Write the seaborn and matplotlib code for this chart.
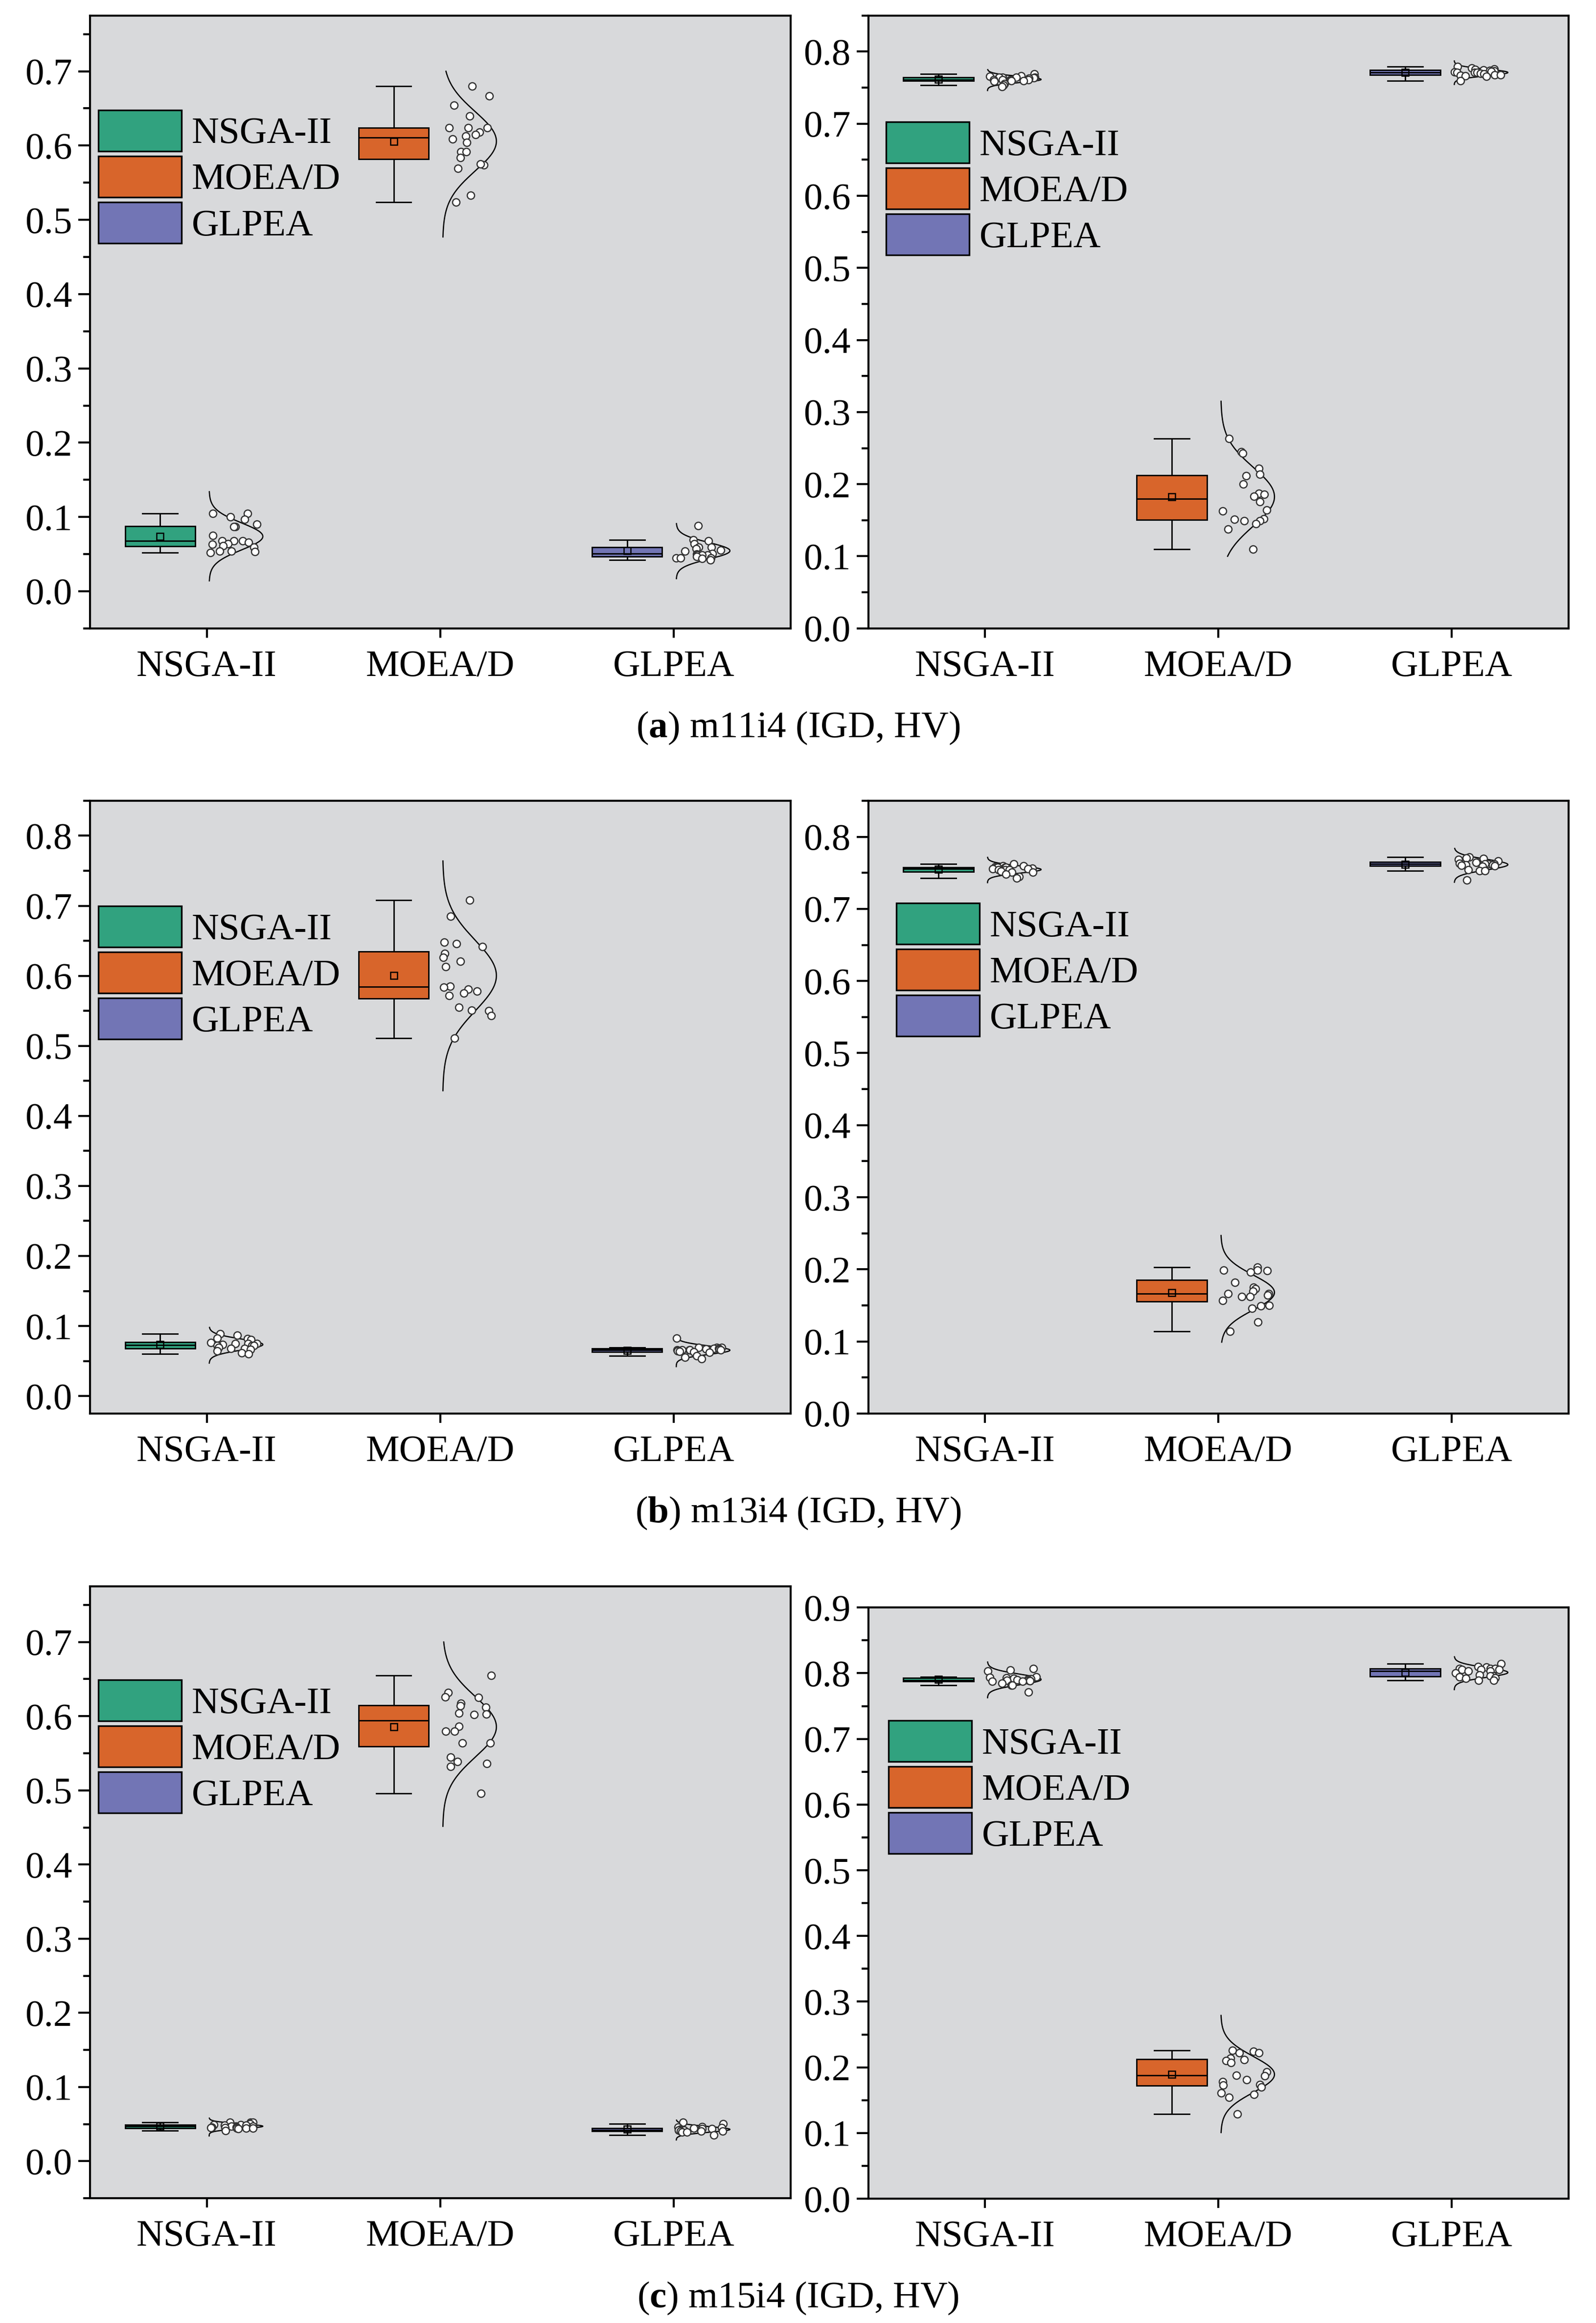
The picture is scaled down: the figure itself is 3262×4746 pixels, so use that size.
import numpy as np
import pandas as pd
import matplotlib
matplotlib.use("Agg")
import matplotlib.pyplot as plt
import matplotlib.transforms as mtransforms
from matplotlib.patches import Patch
from matplotlib.ticker import AutoMinorLocator, FormatStrFormatter
import seaborn as sns

ALGS = ["NSGA-II", "MOEA/D", "GLPEA"]
COLORS = ["#31a27f", "#d8652b", "#7275b5"]
BG = "#d8d9db"

# ---- m11i4 ----
igd_m11_nsga2 = [0.105, 0.105, 0.100, 0.097, 0.090, 0.087, 0.087, 0.075, 0.068, 0.068,
                 0.068, 0.066, 0.064, 0.063, 0.061, 0.059, 0.054, 0.054, 0.053, 0.052]
igd_m11_moead = [0.680, 0.667, 0.654, 0.640, 0.624, 0.624, 0.624, 0.618, 0.615, 0.613,
                 0.609, 0.604, 0.592, 0.592, 0.584, 0.574, 0.575, 0.569, 0.533, 0.524]
igd_m11_glpea = [0.088, 0.069, 0.068, 0.064, 0.059, 0.059, 0.057, 0.055, 0.054, 0.051,
                 0.050, 0.049, 0.049, 0.049, 0.047, 0.045, 0.045, 0.045, 0.044, 0.042]
hv_m11_nsga2 = [0.7688, 0.7662, 0.7656, 0.7643, 0.7643, 0.7643, 0.7643, 0.7636, 0.7630, 0.7610,
                0.7610, 0.7610, 0.7610, 0.7604, 0.7597, 0.7597, 0.7591, 0.7558, 0.7532, 0.7513]
hv_m11_moead = [0.263, 0.245, 0.243, 0.222, 0.214, 0.212, 0.200, 0.187, 0.186, 0.183,
                0.176, 0.164, 0.163, 0.152, 0.151, 0.149, 0.149, 0.145, 0.138, 0.110]
hv_m11_glpea = [0.7792, 0.7773, 0.7760, 0.7753, 0.7747, 0.7740, 0.7734, 0.7727, 0.7721, 0.7714,
                0.7714, 0.7708, 0.7695, 0.7688, 0.7680, 0.7675, 0.7670, 0.7662, 0.7656, 0.7597]

# ---- m13i4 ----
igd_m13_nsga2 = [0.0889, 0.0869, 0.0829, 0.0816, 0.0802, 0.0762, 0.0749, 0.0749, 0.0749, 0.0735,
                 0.0722, 0.0722, 0.0722, 0.0695, 0.0682, 0.0682, 0.0668, 0.0642, 0.0615, 0.0602]
igd_m13_moead = [0.708, 0.685, 0.648, 0.646, 0.642, 0.632, 0.626, 0.621, 0.613, 0.585,
                 0.584, 0.581, 0.578, 0.575, 0.572, 0.555, 0.551, 0.550, 0.543, 0.511]
igd_m13_glpea = [0.0829, 0.0695, 0.0695, 0.0695, 0.0682, 0.0682, 0.0675, 0.0668, 0.0655, 0.0655,
                 0.0655, 0.0655, 0.0655, 0.0642, 0.0622, 0.0635, 0.0628, 0.0575, 0.0555, 0.0535]
hv_m13_nsga2 = [0.7623, 0.7597, 0.7597, 0.7584, 0.7578, 0.7578, 0.7578, 0.7578, 0.7565, 0.7558,
                0.7558, 0.7545, 0.7545, 0.7545, 0.7519, 0.7510, 0.7506, 0.7481, 0.7448, 0.7429]
hv_m13_moead = [0.203, 0.199, 0.199, 0.198, 0.196, 0.182, 0.175, 0.173, 0.170, 0.166,
                0.166, 0.164, 0.162, 0.162, 0.157, 0.150, 0.149, 0.146, 0.127, 0.114]
hv_m13_glpea = [0.7721, 0.7708, 0.7701, 0.7688, 0.7662, 0.7643, 0.7643, 0.7630, 0.7623, 0.7623,
                0.7623, 0.7610, 0.7610, 0.7604, 0.7597, 0.7591, 0.7545, 0.7526, 0.7526, 0.7403]

# ---- m15i4 ----
igd_m15_nsga2 = [0.0527, 0.0527, 0.0527, 0.0501, 0.0494, 0.0494, 0.0481, 0.0481, 0.0468, 0.0468,
                 0.0468, 0.0455, 0.0455, 0.0449, 0.0449, 0.0442, 0.0442, 0.0442, 0.0436, 0.0410]
igd_m15_moead = [0.655, 0.632, 0.626, 0.625, 0.617, 0.614, 0.612, 0.604, 0.603, 0.602,
                 0.586, 0.580, 0.580, 0.564, 0.564, 0.545, 0.539, 0.536, 0.532, 0.496]
igd_m15_glpea = [0.0527, 0.0501, 0.0462, 0.0455, 0.0449, 0.0442, 0.0436, 0.0436, 0.0429, 0.0423,
                 0.0416, 0.0416, 0.0416, 0.0416, 0.0403, 0.0403, 0.0403, 0.0390, 0.0390, 0.0351]
hv_m15_nsga2 = [0.8068, 0.8046, 0.8031, 0.7943, 0.7935, 0.7928, 0.7921, 0.7913, 0.7906, 0.7899,
                0.7891, 0.7891, 0.7884, 0.7884, 0.7877, 0.7877, 0.7847, 0.7818, 0.7818, 0.7715]
hv_m15_moead = [0.226, 0.224, 0.222, 0.222, 0.214, 0.212, 0.210, 0.207, 0.193, 0.188,
                0.187, 0.181, 0.178, 0.174, 0.173, 0.170, 0.161, 0.159, 0.154, 0.129]
hv_m15_glpea = [0.8148, 0.8097, 0.8090, 0.8068, 0.8068, 0.8068, 0.8053, 0.8053, 0.8053, 0.8031,
                0.8031, 0.8002, 0.7972, 0.7957, 0.7957, 0.7943, 0.7928, 0.7921, 0.7891, 0.7891]

# y-span of the fitted normal curve drawn beside each group
curve_m11_igd = [(0.014, 0.134), (0.477, 0.700), (0.017, 0.091)]
curve_m11_hv = [(0.746, 0.775), (0.100, 0.315), (0.7545, 0.787)]
curve_m13_igd = [(0.047, 0.098), (0.436, 0.764), (0.042, 0.087)]
curve_m13_hv = [(0.7364, 0.7714), (0.099, 0.247), (0.737, 0.7838)]
curve_m15_igd = [(0.034, 0.058), (0.4515, 0.700), (0.0286, 0.0553)]
curve_m15_hv = [(0.7627, 0.817), (0.1007, 0.279), (0.775, 0.825)]

captions = [r"($\mathbf{a}$) m11i4 (IGD, HV)",
            r"($\mathbf{b}$) m13i4 (IGD, HV)",
            r"($\mathbf{c}$) m15i4 (IGD, HV)"]

PANELS = [
    # groups, curves, ylim, top major tick, axes rect, legend anchor
    ([igd_m11_nsga2, igd_m11_moead, igd_m11_glpea], curve_m11_igd, (-0.05, 0.775), 0.7,
     [0.0564, 0.7295, 0.4390, 0.2638], (0.012, 0.846)),
    ([hv_m11_nsga2, hv_m11_moead, hv_m11_glpea], curve_m11_hv, (0.0, 0.85), 0.8,
     [0.5441, 0.7295, 0.4387, 0.2638], (0.0255, 0.8265)),
    ([igd_m13_nsga2, igd_m13_moead, igd_m13_glpea], curve_m13_igd, (-0.025, 0.85), 0.8,
     [0.0564, 0.3915, 0.4390, 0.2638], (0.012, 0.828)),
    ([hv_m13_nsga2, hv_m13_moead, hv_m13_glpea], curve_m13_hv, (0.0, 0.85), 0.8,
     [0.5441, 0.3915, 0.4387, 0.2638], (0.040, 0.833)),
    ([igd_m15_nsga2, igd_m15_moead, igd_m15_glpea], curve_m15_igd, (-0.05, 0.775), 0.7,
     [0.0564, 0.0537, 0.4390, 0.2634], (0.012, 0.847)),
    ([hv_m15_nsga2, hv_m15_moead, hv_m15_glpea], curve_m15_hv, (0.0, 0.9), 0.9,
     [0.5441, 0.0535, 0.4387, 0.2545], (0.029, 0.809)),
]
CAPTION_Y = [0.6827, 0.3447, 0.0067]

plt.rcParams["font.family"] = ["Liberation Serif", "DejaVu Serif"]
plt.rcParams["mathtext.fontset"] = "custom"
plt.rcParams["mathtext.rm"] = "Liberation Serif"
plt.rcParams["mathtext.bf"] = "Liberation Serif:bold"
FS = 18.5

np.random.seed(7)  # fixed jitter for the strip points


def draw_panel(ax, groups, curves, ylim, ytop, leg_xy):
    df = pd.DataFrame({"alg": np.repeat(ALGS, [len(g) for g in groups]),
                       "val": np.concatenate(groups)})
    ax.set_facecolor(BG)

    n_lines, n_patches = len(ax.lines), len(ax.patches)
    sns.boxplot(data=df, x="alg", y="val", hue="alg", order=ALGS, hue_order=ALGS,
                palette=COLORS, saturation=1, width=0.3, showfliers=False,
                showmeans=True,
                meanprops=dict(marker="s", markerfacecolor="none",
                               markeredgecolor="black", markersize=3.4,
                               markeredgewidth=0.6),
                linecolor="black", linewidth=0.7, legend=False, ax=ax)
    # boxes sit to the left of each category tick
    shift = mtransforms.Affine2D().translate(-0.2, 0) + ax.transData
    for art in list(ax.lines[n_lines:]) + list(ax.patches[n_patches:]):
        art.set_transform(shift)

    n_coll = len(ax.collections)
    sns.stripplot(data=df, x="alg", y="val", order=ALGS, color="white",
                  edgecolor="#333333", linewidth=0.6, size=3.6, jitter=0.105,
                  zorder=4, ax=ax)
    for coll in ax.collections[n_coll:]:
        offs = np.array(coll.get_offsets())
        offs[:, 0] += 0.115
        coll.set_offsets(offs)

    # half normal curve to the right of the points
    for i, (vals, (lo, hi)) in enumerate(zip(groups, curves)):
        mu, sd = np.mean(vals), np.std(vals, ddof=1)
        yy = np.linspace(lo, hi, 300)
        dens = np.exp(-0.5 * ((yy - mu) / sd) ** 2)
        ax.plot(i + 0.01 + 0.23 * dens, yy, color="black", lw=0.6, zorder=3)

    ax.set_xlim(-0.5, 2.5)
    ax.set_ylim(*ylim)
    ax.set_yticks(np.round(np.arange(0, ytop + 1e-9, 0.1), 1))
    ax.yaxis.set_minor_locator(AutoMinorLocator(2))
    ax.yaxis.set_major_formatter(FormatStrFormatter("%.1f"))
    ax.set_xlabel("")
    ax.set_ylabel("")
    for s in ax.spines.values():
        s.set_visible(True)
        s.set_linewidth(1.0)
        s.set_color("black")
    ax.tick_params(axis="y", which="major", length=5.8, width=1.0, labelsize=FS, pad=3)
    ax.tick_params(axis="y", which="minor", length=3.3, width=1.0)
    ax.tick_params(axis="x", which="major", length=4.6, width=1.0, labelsize=FS, pad=6)
    ax.tick_params(axis="x", which="minor", length=0)

    handles = [Patch(facecolor=c, edgecolor="black", linewidth=0.8) for c in COLORS]
    ax.legend(handles, ALGS, loc="upper left", bbox_to_anchor=leg_xy,
              borderaxespad=0, borderpad=0, frameon=False, fontsize=FS,
              handlelength=2.2, handleheight=1.3, labelspacing=0.13,
              handletextpad=0.27)


fig = plt.figure(figsize=(3262 / 300, 4746 / 300))
for groups, curves, ylim, ytop, rect, leg_xy in PANELS:
    ax = fig.add_axes(rect)
    draw_panel(ax, groups, curves, ylim, ytop, leg_xy)

for text, y in zip(captions, CAPTION_Y):
    fig.text(0.5, y, text, ha="center", va="baseline", fontsize=FS)

fig.savefig("out.png", dpi=300, facecolor="white")
